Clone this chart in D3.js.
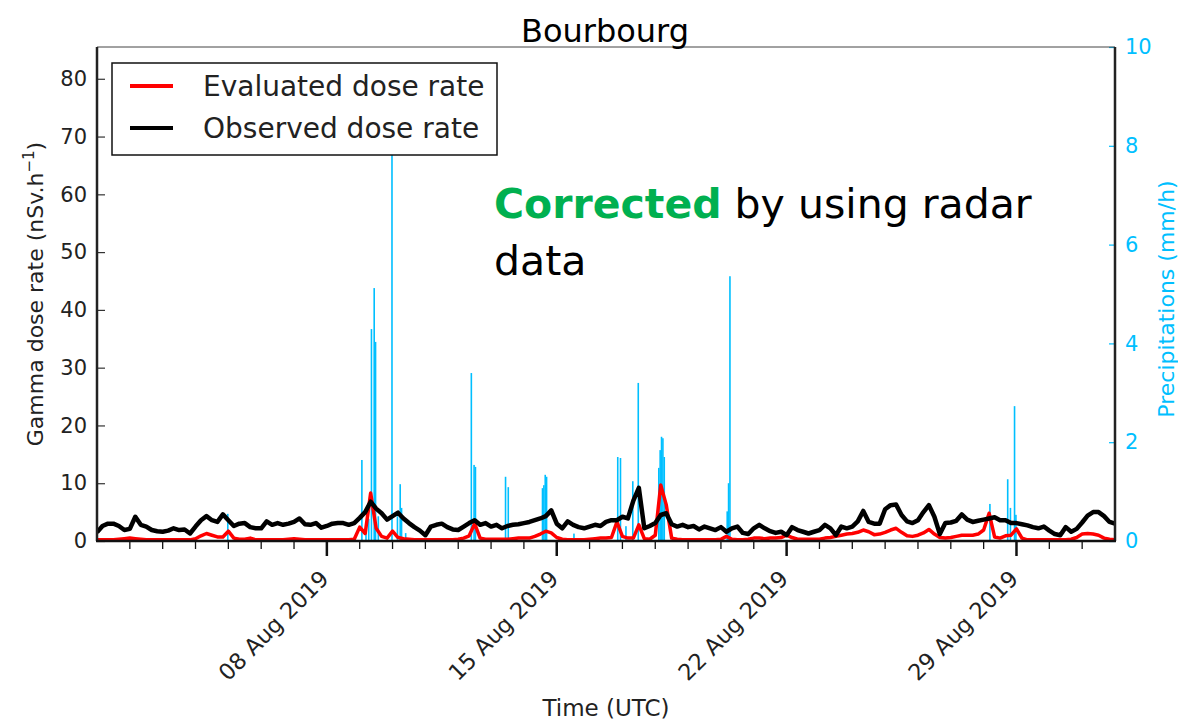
<!DOCTYPE html>
<html>
<head>
<meta charset="utf-8">
<script src="https://cdn.jsdelivr.net/npm/d3@7"></script>
<style>
  html, body { margin: 0; padding: 0; background: #fff; }
  svg { display: block; font-family: 'DejaVu Sans', sans-serif; }
</style>
</head>
<body>
<svg id="chart" width="1178" height="721"></svg>
<script>
// series start, one value every 4 hours (UTC)
const START = '2019-08-01T00:00:00Z'
const STEP_HOURS = 4

// observed gamma dose rate (nSv/h), 6 values per day
const OBSERVED = [
  1.5, 2.6, 3.0, 3.0, 2.6, 1.9,   // 01 Aug
  2.1, 4.2, 2.8, 2.5, 1.9, 1.7,
  1.6, 1.8, 2.2, 1.9, 2.0, 1.3,
  2.5, 3.6, 4.3, 3.6, 3.3, 4.6,
  3.6, 2.6, 3.0, 3.1, 2.4, 2.2,   // 05 Aug
  2.2, 3.4, 2.8, 3.1, 2.8, 3.0,
  3.3, 3.9, 2.9, 2.8, 3.1, 2.3,
  2.6, 3.0, 3.1, 3.1, 2.8, 3.1,
  4.0, 5.0, 6.8, 5.6, 4.8, 3.7,   // 09 Aug
  4.3, 4.9, 3.9, 3.1, 2.4, 1.8,
  1.0, 2.5, 2.8, 3.0, 2.4, 2.0,
  1.9, 2.5, 3.1, 3.6, 2.8, 3.1,
  2.5, 2.8, 2.2, 2.6, 2.8, 2.9,   // 13 Aug
  3.1, 3.3, 3.6, 3.9, 4.3, 5.3,
  3.0, 2.2, 3.4, 2.8, 2.4, 2.2,
  2.5, 2.8, 2.6, 3.3, 3.6, 3.6,
  4.2, 3.9, 7.0, 9.2, 2.2, 2.6,   // 17 Aug
  3.1, 4.5, 4.8, 2.9, 2.5, 2.8,
  2.4, 2.6, 2.0, 2.5, 2.2, 1.9,
  2.4, 1.6, 2.2, 2.5, 1.4, 1.2,
  2.2, 2.8, 2.2, 1.7, 1.4, 1.6,   // 21 Aug
  1.0, 2.4, 1.9, 1.6, 1.3, 1.6,
  1.9, 2.8, 2.2, 1.0, 2.5, 2.2,
  2.5, 3.4, 5.2, 3.3, 3.0, 3.0,
  5.5, 6.2, 6.3, 4.5, 3.4, 3.1,   // 25 Aug
  3.6, 5.0, 6.2, 4.2, 1.2, 3.1,
  3.2, 3.5, 4.6, 3.7, 3.3, 3.5,
  3.7, 3.9, 4.1, 3.6, 3.6, 3.1,
  3.1, 2.9, 2.7, 2.4, 2.2, 2.5,   // 29 Aug
  1.8, 1.2, 1.0, 2.4, 1.6, 2.1,
  3.2, 4.4, 5.0, 5.0, 4.3, 3.3,
  3.0
]

// evaluated gamma dose rate (nSv/h), same time grid
const EVALUATED = [
  0.2, 0.2, 0.2, 0.2, 0.3, 0.4,   // 01 Aug
  0.5, 0.4, 0.3, 0.2, 0.2, 0.2,
  0.2, 0.2, 0.2, 0.2, 0.2, 0.2,
  0.4, 0.9, 1.3, 1.0, 0.7, 0.7,
  1.7, 0.5, 0.3, 0.3, 0.5, 0.2,   // 05 Aug
  0.2, 0.2, 0.2, 0.2, 0.2, 0.3,
  0.4, 0.3, 0.2, 0.2, 0.2, 0.2,
  0.2, 0.2, 0.2, 0.2, 0.2, 0.3,
  2.4, 1.3, 8.3, 2.2, 0.8, 0.5,   // 09 Aug
  1.7, 0.6, 0.4, 0.3, 0.2, 0.2,
  0.2, 0.2, 0.2, 0.2, 0.2, 0.2,
  0.3, 0.5, 0.9, 3.0, 0.5, 0.3,
  0.3, 0.3, 0.3, 0.3, 0.4, 0.5,   // 13 Aug
  0.5, 0.5, 0.8, 1.2, 1.7, 1.4,
  0.6, 0.3, 0.2, 0.2, 0.2, 0.2,
  0.3, 0.4, 0.5, 0.5, 0.6, 3.3,
  0.8, 0.5, 0.5, 2.8, 0.4, 0.3,   // 17 Aug
  1.0, 9.7, 6.3, 0.5, 0.3, 0.2,
  0.2, 0.2, 0.2, 0.2, 0.2, 0.2,
  0.3, 0.8, 0.3, 0.2, 0.2, 0.3,
  0.5, 0.5, 0.4, 0.5, 0.5, 0.6,   // 21 Aug
  1.0, 0.6, 0.3, 0.3, 0.3, 0.3,
  0.3, 0.5, 0.6, 0.8, 1.0, 1.2,
  1.3, 1.5, 1.9, 1.6, 1.1, 1.2,
  1.5, 1.9, 2.2, 1.5, 0.9, 0.8,   // 25 Aug
  1.0, 1.4, 2.0, 1.2, 0.6, 0.5,
  0.6, 0.8, 1.0, 1.0, 1.0, 1.2,
  1.9, 4.8, 0.7, 0.5, 0.9, 1.0,
  2.1, 0.5, 0.2, 0.2, 0.2, 0.2,   // 29 Aug
  0.2, 0.2, 0.2, 0.2, 0.3, 0.6,
  1.2, 1.3, 1.2, 1.0, 0.5, 0.3,
  0.2
]

// hourly precipitation from radar (mm/h), only the non-zero hours
const RAIN_TIMES = [
  '2019-08-04T23:00Z',
  '2019-08-09T01:00Z', '2019-08-09T04:00Z', '2019-08-09T06:00Z', '2019-08-09T08:00Z',
  '2019-08-09T10:00Z', '2019-08-09T11:00Z', '2019-08-09T13:00Z', '2019-08-09T23:00Z',
  '2019-08-10T03:00Z', '2019-08-10T05:00Z', '2019-08-10T06:00Z', '2019-08-10T09:00Z',
  '2019-08-12T09:00Z', '2019-08-12T11:00Z', '2019-08-12T12:00Z',
  '2019-08-13T10:00Z', '2019-08-13T12:00Z',
  '2019-08-14T13:00Z', '2019-08-14T14:00Z', '2019-08-14T15:00Z', '2019-08-14T16:00Z',
  '2019-08-15T12:00Z',
  '2019-08-16T20:00Z', '2019-08-16T22:00Z',
  '2019-08-17T02:00Z', '2019-08-17T07:00Z', '2019-08-17T11:00Z',
  '2019-08-18T02:00Z', '2019-08-18T03:00Z', '2019-08-18T04:00Z', '2019-08-18T05:00Z', '2019-08-18T06:00Z',
  '2019-08-20T04:00Z', '2019-08-20T05:00Z', '2019-08-20T06:00Z',
  '2019-08-28T04:00Z', '2019-08-28T17:00Z', '2019-08-28T19:00Z', '2019-08-28T22:00Z', '2019-08-28T23:00Z'
]
const RAIN_VALUES = [
  0.55,
  1.64, 0.30, 0.45, 4.29,
  5.12, 4.03, 0.50, 8.30,
  0.50, 1.15, 0.67, 0.16,
  3.40, 1.54, 1.50,
  1.30, 1.09,
  1.07, 1.13, 1.34, 1.30,
  0.15,
  1.70, 1.68,
  0.30, 1.21, 3.20,
  1.48, 1.84, 2.11, 2.08, 1.70,
  0.60, 1.17, 5.36,
  0.75, 1.25, 0.67, 2.73, 0.53
]

const DOSE_TICKS = [0, 10, 20, 30, 40, 50, 60, 70, 80]
const RAIN_TICKS = [0, 2, 4, 6, 8, 10]
const DATE_LABELS = ['2019-08-08', '2019-08-15', '2019-08-22', '2019-08-29']

const RED = '#ff0000'
const BLUE = '#00bfff'
const TXT = '#222'

const svg = d3.select('#chart')
const pLeft = 97, pRight = 1115, pTop = 47, pBottom = 541

const x = d3.scaleUtc()
  .domain([new Date('2019-08-01T00:00Z'), new Date('2019-09-01T00:00Z')])
  .range([pLeft, pRight])
const yDose = d3.scaleLinear().domain([0, 85.5]).range([pBottom, pTop])
const yRain = d3.scaleLinear().domain([0, 10]).range([pBottom, pTop])

const t0 = new Date(START)
const timeAt = i => d3.utcHour.offset(t0, i * STEP_HOURS)
const obs = OBSERVED.map((v, i) => ({ t: timeAt(i), v }))
const evl = EVALUATED.map((v, i) => ({ t: timeAt(i), v }))
const rain = RAIN_TIMES.map((s, i) => ({ t: new Date(s), v: RAIN_VALUES[i] }))

svg.append('defs').append('clipPath').attr('id', 'plot-clip')
  .append('rect').attr('x', pLeft).attr('y', pTop).attr('width', pRight - pLeft).attr('height', pBottom - pTop)

const plot = svg.append('g').attr('clip-path', 'url(#plot-clip)')

// precipitation bars
plot.selectAll('rect.rain').data(rain).join('rect')
  .attr('class', 'rain')
  .attr('x', d => x(d.t))
  .attr('width', d => Math.max(1.6, x(d3.utcHour.offset(d.t, 1)) - x(d.t)))
  .attr('y', d => yRain(d.v))
  .attr('height', d => yRain(0) - yRain(d.v))
  .attr('fill', BLUE)

const line = d3.line().x(d => x(d.t)).y(d => yDose(d.v))

plot.append('path').datum(evl)
  .attr('d', line).attr('fill', 'none')
  .attr('stroke', RED).attr('stroke-width', 3.5).attr('stroke-linejoin', 'round')

plot.append('path').datum(obs)
  .attr('d', line).attr('fill', 'none')
  .attr('stroke', '#000').attr('stroke-width', 4.5).attr('stroke-linejoin', 'round')

// left axis, ticks pointing inwards
const gLeft = svg.append('g').attr('transform', `translate(${pLeft},0)`)
  .call(d3.axisLeft(yDose).tickValues(DOSE_TICKS).tickSizeInner(-8).tickSizeOuter(0).tickPadding(10))
gLeft.select('.domain').remove()
gLeft.selectAll('line').attr('stroke', '#333').attr('stroke-width', 1.2)
gLeft.selectAll('text').attr('font-size', 21).attr('fill', TXT).attr('font-family', 'DejaVu Sans')

// right axis (precipitation)
const gRight = svg.append('g').attr('transform', `translate(${pRight},0)`)
  .call(d3.axisRight(yRain).tickValues(RAIN_TICKS).tickSizeInner(-6).tickSizeOuter(0).tickPadding(10))
gRight.select('.domain').remove()
gRight.selectAll('line').attr('stroke', BLUE).attr('stroke-width', 1.2)
gRight.selectAll('text').attr('font-size', 21).attr('fill', BLUE).attr('font-family', 'DejaVu Sans')

// bottom axis: daily minor ticks, weekly major ticks
const majors = DATE_LABELS.map(s => new Date(s + 'T00:00Z'))
const isMajor = d => majors.some(m => +m === +d)
const days = d3.utcDay.range(d3.utcDay.offset(x.domain()[0], 1), x.domain()[1])
const gBottom = svg.append('g').attr('transform', `translate(0,${pBottom})`)
gBottom.selectAll('line.tick').data(days).join('line')
  .attr('class', 'tick')
  .attr('x1', d => x(d)).attr('x2', d => x(d))
  .attr('y1', 0)
  .attr('y2', d => isMajor(d) ? 15 : 8)
  .attr('stroke', '#111')
  .attr('stroke-width', d => isMajor(d) ? 2.5 : 1.3)
const fmt = d3.utcFormat('%d %b %Y')
gBottom.selectAll('text.date').data(majors).join('text')
  .attr('class', 'date')
  .attr('transform', d => `translate(${x(d) - 8},28) rotate(-45)`)
  .attr('text-anchor', 'end')
  .attr('dy', '0.7em')
  .attr('font-size', 22.5).attr('fill', TXT)
  .text(fmt)

// frame
svg.append('line').attr('x1', pLeft).attr('x2', pRight).attr('y1', pTop).attr('y2', pTop)
  .attr('stroke', '#444').attr('stroke-width', 1)
svg.append('line').attr('x1', pLeft).attr('x2', pLeft).attr('y1', pTop).attr('y2', pBottom)
  .attr('stroke', '#222').attr('stroke-width', 2.5)
svg.append('line').attr('x1', pRight).attr('x2', pRight).attr('y1', pTop).attr('y2', pBottom)
  .attr('stroke', '#222').attr('stroke-width', 2.5)
svg.append('line').attr('x1', pLeft - 1).attr('x2', pRight + 1).attr('y1', pBottom).attr('y2', pBottom)
  .attr('stroke', '#111').attr('stroke-width', 2.5)

// axis titles
const yLab = svg.append('text')
  .attr('transform', `translate(43,${(pTop + pBottom) / 2}) rotate(-90)`)
  .attr('text-anchor', 'middle').attr('font-size', 22).attr('fill', TXT)
yLab.append('tspan').text('Gamma dose rate (nSv.h')
yLab.append('tspan').attr('font-size', 15).attr('dy', -9).text('−1')
yLab.append('tspan').attr('dy', 9).text(')')

svg.append('text')
  .attr('transform', `translate(1174,${(pTop + pBottom) / 2 + 5}) rotate(-90)`)
  .attr('text-anchor', 'middle').attr('font-size', 22).attr('fill', BLUE)
  .text('Precipitations (mm/h)')

svg.append('text')
  .attr('x', (pLeft + pRight) / 2).attr('y', 716)
  .attr('text-anchor', 'middle').attr('font-size', 23).attr('fill', TXT)
  .text('Time (UTC)')

svg.append('text')
  .attr('x', 605).attr('y', 42)
  .attr('text-anchor', 'middle').attr('font-size', 32).attr('fill', '#000')
  .text('Bourbourg')

// legend
const legend = svg.append('g')
legend.append('rect')
  .attr('x', 112).attr('y', 63).attr('width', 385).attr('height', 92)
  .attr('fill', '#fff').attr('stroke', '#111').attr('stroke-width', 1.5)
const items = [['Evaluated dose rate', RED], ['Observed dose rate', '#000']]
items.forEach(([label, col], i) => {
  const cy = 86 + i * 42
  legend.append('line').attr('x1', 130).attr('x2', 173).attr('y1', cy).attr('y2', cy)
    .attr('stroke', col).attr('stroke-width', 4)
  legend.append('text').attr('x', 203).attr('y', cy + 10)
    .attr('font-size', 28).attr('fill', TXT).text(label)
})

// annotation
const note = svg.append('text').attr('x', 494).attr('y', 218).attr('font-size', 41).attr('fill', '#000')
note.append('tspan').attr('font-weight', 'bold').attr('fill', '#00b050').text('Corrected')
note.append('tspan').text(' by using radar')
svg.append('text').attr('x', 494).attr('y', 275).attr('font-size', 41).attr('fill', '#000').text('data')
</script>
</body>
</html>
